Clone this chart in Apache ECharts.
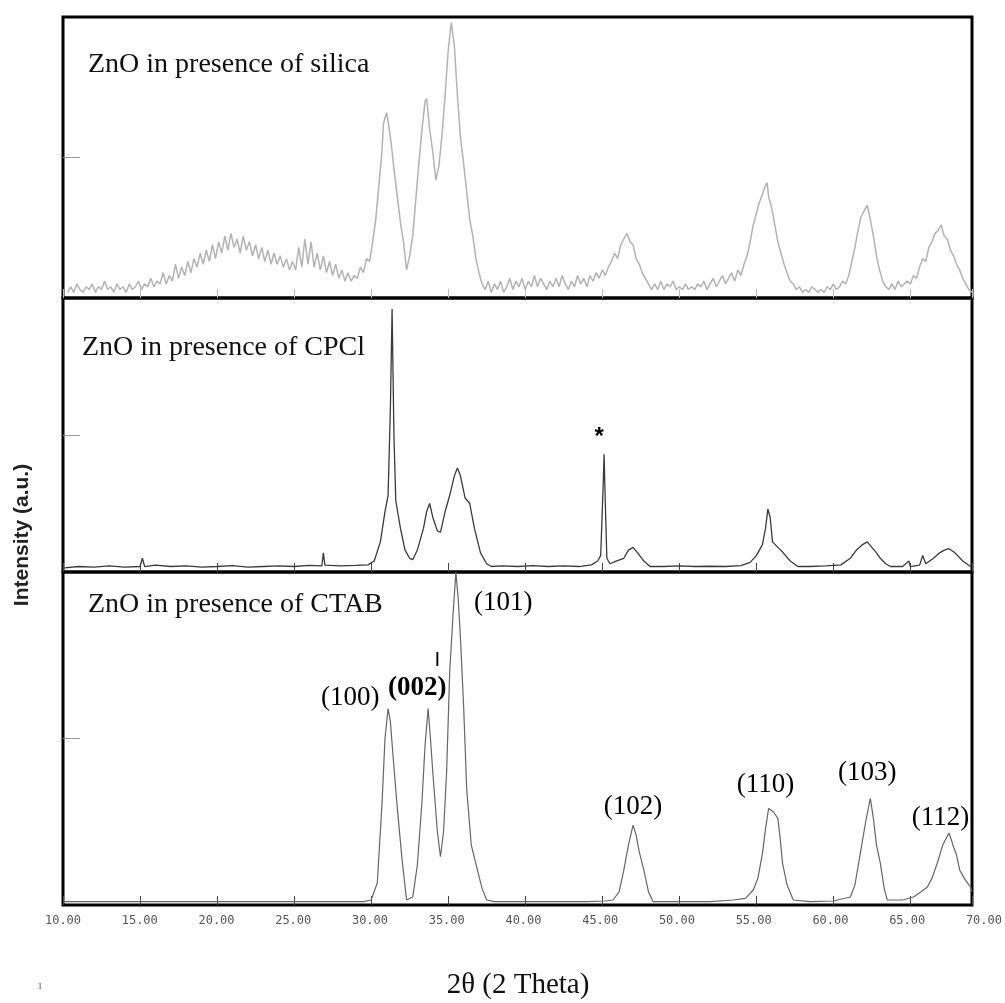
<!DOCTYPE html>
<html><head><meta charset="utf-8">
<script src="https://cdn.jsdelivr.net/npm/echarts@6/dist/echarts.min.js"></script>
<style>html,body{margin:0;padding:0;background:#fff}#c{width:1005px;height:1003px}</style>
</head><body><div id="c"></div>
<script>
// 2θ tick labels (degrees)
const tickMin = 10, tickMax = 70, tickStep = 5;
const panelTitles = ['ZnO in presence of silica', 'ZnO in presence of CPCl', 'ZnO in presence of CTAB'];

// Intensity in % of panel height, [2θ, I]
const silica = [[10.3,2],[10.5,4],[10.7,2],[10.9,5],[11.1,3],[11.3,2],[11.5,4],[11.7,3],[11.9,5],[12.1,2],[12.3,4],[12.5,3],[12.7,6],[12.9,3],[13.1,4],[13.3,2],[13.5,5],[13.7,3],[13.9,4],[14.1,2],[14.3,5],[14.5,3],[14.7,4],[14.9,6],[15.1,3],[15.3,5],[15.5,4],[15.7,7],[15.9,4],[16.1,6],[16.3,5],[16.5,9],[16.7,5],[16.9,8],[17.1,6],[17.3,12],[17.5,7],[17.7,11],[17.9,8],[18.1,13],[18.3,9],[18.5,14],[18.7,11],[18.9,16],[19.1,12],[19.3,17],[19.5,13],[19.7,19],[19.9,14],[20.1,20],[20.3,16],[20.5,22],[20.7,17],[20.9,23],[21.1,18],[21.3,21],[21.5,16],[21.7,22],[21.9,17],[22.1,20],[22.3,15],[22.5,19],[22.7,14],[22.9,18],[23.1,13],[23.3,17],[23.5,12],[23.7,16],[23.9,12],[24.1,15],[24.3,11],[24.5,14],[24.7,10],[24.9,13],[25.1,10],[25.3,18],[25.5,11],[25.7,21],[25.9,12],[26.1,20],[26.3,11],[26.5,16],[26.7,10],[26.9,15],[27.1,9],[27.3,13],[27.5,8],[27.7,12],[27.9,7],[28.1,10],[28.3,6],[28.5,9],[28.7,6],[28.9,8],[29.1,7],[29.3,11],[29.5,9],[29.7,14],[29.9,13],[30.1,20],[30.3,28],[30.5,40],[30.7,52],[30.8,62],[31.0,66],[31.1,63],[31.3,55],[31.5,45],[31.7,36],[31.9,27],[32.1,20],[32.3,10],[32.5,15],[32.7,22],[32.9,35],[33.1,48],[33.3,60],[33.5,70],[33.6,71],[33.8,60],[34.0,52],[34.2,42],[34.4,47],[34.6,58],[34.8,72],[35.0,88],[35.2,98],[35.4,90],[35.6,72],[35.8,57],[36.0,48],[36.2,38],[36.4,28],[36.6,22],[36.8,14],[37.0,9],[37.2,5],[37.4,3],[37.6,6],[37.8,2],[38.0,5],[38.2,3],[38.4,6],[38.6,2],[38.8,4],[39.0,7],[39.2,3],[39.4,6],[39.6,4],[39.8,7],[40.0,3],[40.2,6],[40.4,4],[40.6,8],[40.8,4],[41.0,7],[41.2,5],[41.4,3],[41.6,6],[41.8,4],[42.0,7],[42.2,4],[42.4,8],[42.6,5],[42.8,3],[43.0,6],[43.2,4],[43.4,8],[43.6,5],[43.8,7],[44.0,4],[44.2,8],[44.4,6],[44.6,9],[44.8,7],[45.0,10],[45.2,8],[45.4,11],[45.6,13],[45.8,16],[46.0,14],[46.2,19],[46.4,21],[46.6,23],[46.8,20],[47.0,19],[47.2,14],[47.4,12],[47.6,9],[47.8,7],[48.0,5],[48.2,3],[48.4,5],[48.6,3],[48.8,6],[49.0,3],[49.2,5],[49.4,4],[49.6,6],[49.8,3],[50.0,4],[50.2,3],[50.4,5],[50.6,3],[50.8,4],[51.0,3],[51.2,5],[51.4,4],[51.6,6],[51.8,3],[52.0,5],[52.2,7],[52.4,4],[52.6,6],[52.8,8],[53.0,5],[53.2,7],[53.4,9],[53.6,6],[53.8,10],[54.0,8],[54.2,12],[54.4,15],[54.6,20],[54.8,26],[55.0,30],[55.2,34],[55.4,37],[55.6,40],[55.7,41],[55.8,36],[56.0,32],[56.2,26],[56.4,20],[56.6,16],[56.8,12],[57.0,9],[57.2,6],[57.4,5],[57.6,3],[57.8,4],[58.0,2],[58.2,3],[58.4,2],[58.6,4],[58.8,3],[59.0,2],[59.2,3],[59.4,2],[59.6,4],[59.8,3],[60.0,5],[60.2,3],[60.4,4],[60.6,6],[60.8,5],[61.0,8],[61.2,13],[61.4,18],[61.6,24],[61.8,29],[62.0,31],[62.2,33],[62.4,28],[62.6,22],[62.8,15],[63.0,10],[63.2,6],[63.4,4],[63.6,3],[63.8,5],[64.0,3],[64.2,6],[64.4,4],[64.6,5],[64.8,6],[65.0,5],[65.2,8],[65.4,7],[65.6,11],[65.8,14],[66.0,13],[66.2,18],[66.4,20],[66.6,23],[66.8,24],[67.0,26],[67.2,22],[67.4,21],[67.6,17],[67.8,15],[68.0,12],[68.2,10],[68.4,7],[68.6,5],[68.8,3],[69.0,2]];

const cpcl = [[10.1,1.5],[11,2],[12,1.8],[13,2.2],[14,1.8],[15.0,2],[15.15,5],[15.3,2],[16,2.5],[17,2],[18,2.2],[19,1.8],[20,2],[21,2.3],[22,1.8],[23,2],[24,2.2],[25,2],[26,2.4],[26.8,2.2],[26.9,7],[27.0,2.5],[28,2.2],[29,2.4],[29.8,2.6],[30.2,4],[30.6,11],[30.9,22],[31.1,28],[31.25,60],[31.36,96],[31.48,50],[31.6,26],[31.9,16],[32.2,8],[32.5,5],[32.7,4.5],[33.0,8],[33.4,16],[33.6,22],[33.8,25],[34.0,20],[34.3,15],[34.5,14.5],[34.8,22],[35.1,28],[35.4,35],[35.6,38],[35.8,35],[36.1,27],[36.4,25],[36.7,16],[37.1,7],[37.5,3],[37.8,2],[38.5,2.2],[39.5,2],[40.5,2.3],[41.5,2],[42.5,2.2],[43.5,2],[44.3,2.6],[44.7,4],[44.9,6],[45.05,30],[45.12,43],[45.2,25],[45.3,5],[45.5,3],[45.9,4],[46.4,5],[46.7,8],[47.0,9],[47.3,7],[47.7,4],[48.1,2],[49,2],[50,2.2],[51,2],[52,2.1],[53,2],[54,2.3],[54.6,3.5],[55.0,6],[55.4,10],[55.6,16],[55.75,23],[55.9,20],[56.05,11],[56.4,9],[56.75,7],[57.2,4],[57.7,2],[58.5,2],[59.5,2.2],[60.5,2.6],[61.1,5],[61.5,8],[61.9,10],[62.2,11],[62.5,9],[62.8,7],[63.05,5],[63.4,3],[63.7,2],[64.5,2],[64.9,4],[65.0,2],[65.6,2.5],[65.8,6],[66.0,3],[66.5,5],[66.9,7],[67.2,8],[67.5,8.5],[67.9,7],[68.4,4],[68.9,2]];

const ctab = [[10.1,1],[15,1],[20,1],[25,1],[29.5,1],[30.0,1.5],[30.4,6.6],[30.7,30],[30.9,50],[31.1,59],[31.25,55],[31.4,46],[31.7,29],[32.0,14],[32.3,1.5],[32.7,2.4],[33.0,12],[33.3,31],[33.5,48],[33.7,59],[33.85,50],[34.0,40],[34.3,22],[34.5,14.5],[34.7,22],[34.9,40],[35.1,70],[35.3,86],[35.5,100],[35.65,92],[35.8,80],[36.0,60],[36.2,35],[36.5,18],[36.9,10.5],[37.2,5],[37.5,1.5],[38,1],[40,1],[42,1],[44,1],[45.2,1.2],[45.7,1.5],[46.1,4],[46.4,10.5],[46.7,18],[47.0,24],[47.2,21],[47.4,16],[47.7,10.5],[48.0,4],[48.3,1],[50,1],[52,1],[53.5,1.5],[54.3,2],[54.8,4.5],[55.1,8],[55.4,15.5],[55.6,23],[55.8,29],[56.1,28],[56.4,26],[56.55,20],[56.7,12.6],[57.0,6],[57.4,1.5],[58.5,1],[60,1.2],[61.1,2.4],[61.4,6],[61.75,15.5],[62.1,25],[62.4,32],[62.6,26],[62.8,18],[63.05,12.6],[63.3,5],[63.5,1.5],[64.5,1.5],[65.2,2.4],[65.7,4],[66.1,5.4],[66.4,8],[66.75,12.6],[67.1,18],[67.5,21.6],[67.7,19],[67.8,17.4],[68.0,15],[68.2,10.5],[68.5,8],[68.9,5.4],[69.0,4]];

// Miller index annotations (bottom panel) and the * marker (middle panel)
const hklLabels = ['(100)', '(002)', '(101)', '(102)', '(110)', '(103)', '(112)'];
const hklPos = [[28.64,62.2],[32.99,65.2],[38.57,90.7],[47.0,29.4],[55.6,36],[62.2,39.6],[66.95,26.1]];
const starPos = [44.8, 49.3];

const chart = echarts.init(document.getElementById('c'));
const serif = 'Liberation Serif';
const panels = [{top:17,height:281},{top:298,height:274},{top:572,height:333}];
const grids = panels.map(p => ({left:63, width:909, top:p.top, height:p.height, show:true, borderColor:'#000', borderWidth:3, backgroundColor:'transparent'}));
grids.push({left:63, width:924, top:905, height:1, show:false});

const tickColors = ['#bbb', '#444', '#444'];
const xAxes = [0,1,2].map(i => ({type:'value', gridIndex:i, min:10, max:69, interval:tickStep,
  axisLine:{show:false}, axisLabel:{show:false}, splitLine:{show:false},
  axisTick:{show:true, inside:true, length:9, lineStyle:{color:tickColors[i], width:1}}}));
xAxes.push({type:'value', gridIndex:3, min:tickMin, max:tickMax, interval:tickStep,
  axisLine:{show:false}, axisTick:{show:false}, splitLine:{show:false},
  axisLabel:{show:true, margin:9, color:'#555', fontFamily:'DejaVu Sans Mono', fontSize:12,
    formatter: v => v.toFixed(2)}});
const yAxes = [0,1,2].map(i => ({type:'value', gridIndex:i, min:0, max:100, interval:50,
  axisLine:{show:false}, axisLabel:{show:false}, splitLine:{show:false},
  axisTick:{show:true, inside:true, length:17, customValues:[50], lineStyle:{color:'#999', width:1}}}));
yAxes.push({type:'value', gridIndex:3, show:false, min:0, max:1});

const lineStyles = [{color:'#b3b3b3', width:1.5}, {color:'#3a3a3a', width:1.3}, {color:'#666', width:1.2}];
const datasets = [silica, cpcl, ctab];
const series = datasets.map((d,i) => ({type:'line', xAxisIndex:i, yAxisIndex:i, data:d, showSymbol:false, symbol:'none',
  lineStyle:lineStyles[i], silent:true, z:3}));

const lbl = (extra) => Object.assign({show:true, position:'inside', formatter:'{b}', color:'#000', textBorderWidth:0, opacity:1}, extra);
series.push({type:'scatter', xAxisIndex:2, yAxisIndex:2, symbolSize:1, itemStyle:{color:'#fff', opacity:0}, silent:true, z:5,
  data: hklLabels.map((t,i) => ({name:t, value:hklPos[i],
    label:lbl({fontFamily:serif, fontSize:27, fontWeight: t === '(002)' ? 'bold' : 'normal'})}))});
series.push({type:'scatter', xAxisIndex:2, yAxisIndex:2, symbolSize:1, itemStyle:{color:'#fff', opacity:0}, silent:true, z:5,
  data:[{name:'|', value:[34.3,74], label:lbl({fontFamily:'Liberation Sans', fontWeight:'bold', fontSize:15})}]});
series.push({type:'scatter', xAxisIndex:1, yAxisIndex:1, symbolSize:1, itemStyle:{color:'#fff', opacity:0}, silent:true, z:5,
  data:[{name:'*', value:starPos, label:lbl({fontFamily:'Liberation Sans', fontWeight:'bold', fontSize:24})}]});

const titlePos = [[88,67],[82,350],[88,607]];
const graphic = panelTitles.map((t,i) => ({type:'text', left:titlePos[i][0], top:titlePos[i][1]-16, z:10,
  style:{text:t, fontFamily:serif, fontSize:28, fill:'#111'}}));
graphic.push({type:'text', x:22, y:535, rotation:Math.PI/2, z:10,
  style:{text:'Intensity (a.u.)', fontFamily:'Liberation Sans', fontWeight:'bold', fontSize:21, fill:'#222', textAlign:'center', textVerticalAlign:'middle'}});
graphic.push({type:'text', x:518, y:985, z:10,
  style:{text:'2θ (2 Theta)', fontFamily:serif, fontSize:29, fill:'#111', textAlign:'center', textVerticalAlign:'middle'}});
graphic.push({type:'text', x:40, y:987, z:10,
  style:{text:'1', fontFamily:serif, fontSize:9, fill:'#444', textAlign:'center', textVerticalAlign:'middle'}});

chart.setOption({animation:false, backgroundColor:'#fff', grid:grids, xAxis:xAxes, yAxis:yAxes, series:series, graphic:graphic});
</script></body></html>
